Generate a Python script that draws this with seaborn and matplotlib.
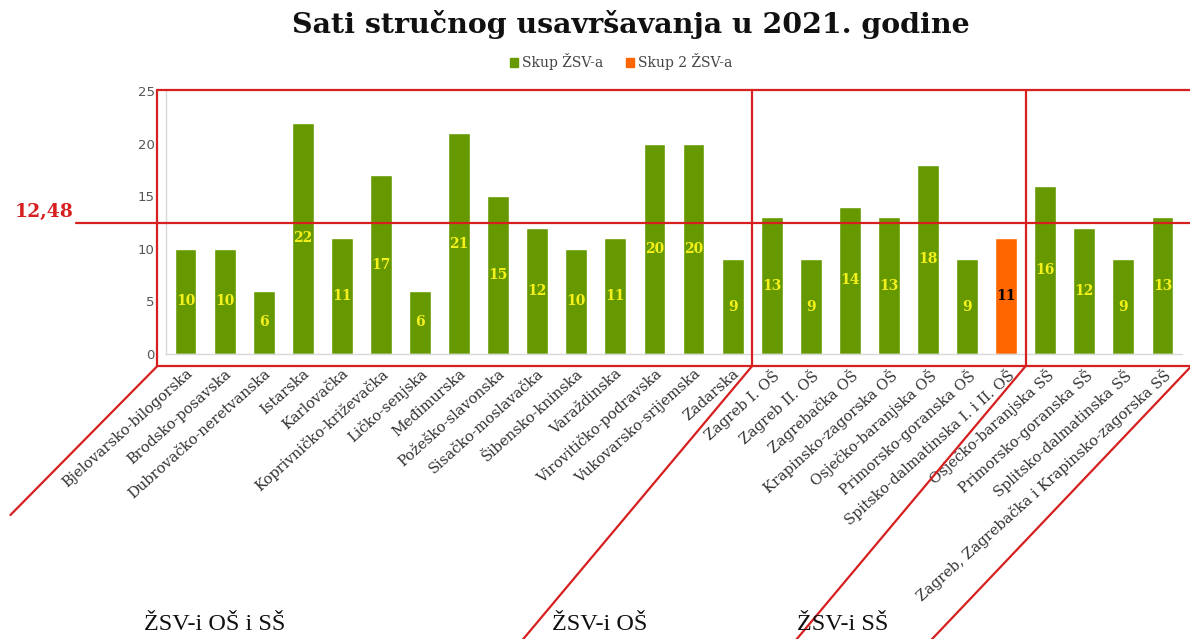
import numpy as np
import pandas as pd
import seaborn as sns
import matplotlib.pyplot as plt
from matplotlib.patches import Patch
from matplotlib.transforms import blended_transform_factory

# podaci
kategorije = ['Bjelovarsko-bilogorska', 'Brodsko-posavska', 'Dubrovačko-neretvanska',
              'Istarska', 'Karlovačka', 'Koprivničko-križevačka', 'Ličko-senjska',
              'Međimurska', 'Požeško-slavonska', 'Sisačko-moslavačka', 'Šibensko-kninska',
              'Varaždinska', 'Virovitičko-podravska', 'Vukovarsko-srijemska', 'Zadarska',
              'Zagreb I. OŠ', 'Zagreb II. OŠ', 'Zagrebačka OŠ', 'Krapinsko-zagorska OŠ',
              'Osječko-baranjska OŠ', 'Primorsko-goranska OŠ', 'Spitsko-dalmatinska I. i II. OŠ',
              'Osječko-baranjska SŠ', 'Primorsko-goranska SŠ', 'Splitsko-dalmatinska SŠ',
              'Zagreb, Zagrebačka i Krapinsko-zagorska SŠ']
sati = [10, 10, 6, 22, 11, 17, 6, 21, 15, 12, 10, 11, 20, 20, 9,
        13, 9, 14, 13, 18, 9, 11,
        16, 12, 9, 13]
skupina = ['Skup ŽSV-a'] * 21 + ['Skup 2 ŽSV-a'] + ['Skup ŽSV-a'] * 4
prosjek = 12.48
grupe = ['ŽSV-i OŠ i SŠ', 'ŽSV-i OŠ', 'ŽSV-i SŠ']
velicine_grupa = [15, 7, 4]

boje = {'Skup ŽSV-a': '#669900', 'Skup 2 ŽSV-a': '#FF6600'}
crvena = '#D61F1F'

sns.set_theme(style='white')
plt.rcParams['font.family'] = ['DejaVu Serif']

fig = plt.figure(figsize=(11.9, 6.39), dpi=100)
ax = fig.add_axes([0.1395, 0.446, 0.8538, 0.4116])

df = pd.DataFrame({'kat': kategorije, 'sati': sati, 'skup': skupina})
sns.barplot(data=df, x='kat', y='sati', hue='skup', palette=boje, dodge=False,
            width=0.56, saturation=1, legend=False, ax=ax)

# vrijednosti u stupcima
for cont, c in zip(ax.containers, ['#F4F01C', 'black']):
    ax.bar_label(cont, fmt='{:.0f}', label_type='center', color=c,
                 fontweight='bold', fontsize=10)

ax.set_xlim(-0.5, 25.5)
ax.set_ylim(0, 25)
ax.set_yticks(range(0, 26, 5))
ax.set_xlabel('')
ax.set_ylabel('')
for s in ['top', 'right']:
    ax.spines[s].set_visible(False)
for s in ['left', 'bottom']:
    ax.spines[s].set_color('#d8d8d8')
    ax.spines[s].set_linewidth(1)
ax.tick_params(axis='y', length=4, color='#d8d8d8', labelcolor='#555555', pad=4)
ax.tick_params(axis='x', length=0, pad=9)
for t in ax.get_yticklabels():
    t.set_family('DejaVu Sans')
    t.set_fontsize(9.5)
ax.set_xticks(range(len(kategorije)))
ax.set_xticklabels(kategorije, rotation=42, ha='right', va='top',
                   rotation_mode='anchor', fontsize=10.5, color='#333333')

# naslov i legenda
fig.text(0.53, 0.962, 'Sati stručnog usavršavanja u 2021. godine', ha='center', va='center',
         fontsize=20.5, fontweight='bold', color='#111111')
ruke = [Patch(color=boje[k]) for k in boje]
fig.legend(ruke, list(boje), loc='center', bbox_to_anchor=(0.522, 0.903), ncol=2,
           frameon=False, handlelength=0.6, handleheight=0.6, handletextpad=0.3,
           columnspacing=1.6, fontsize=10, labelcolor='#444444')

# crveni okviri
granice = np.cumsum(velicine_grupa)[:-1] - 0.5
vrh, dno = 25.1, -1.14
lijevo, desno = -0.72, 25.9
kw = dict(color=crvena, lw=1.6, clip_on=False, zorder=5)
ax.plot([lijevo, desno], [vrh, vrh], **kw)
ax.plot([lijevo, desno], [dno, dno], **kw)
ax.plot([lijevo, lijevo], [dno, vrh], **kw)
for g in granice:
    ax.plot([g, g], [dno, vrh], **kw)
# kose linije prema dolje
ax.plot([lijevo, -4.48], [dno, -15.3], **kw)
for g in granice:
    ax.plot([g, g - 5.95], [dno, -27.5], **kw)
ax.plot([25.7, 19.0], [-1.3, -27.5], **kw)

# prosjek
ax.plot([-2.81, desno], [prosjek, prosjek], **kw)
tr = blended_transform_factory(fig.transFigure, ax.transData)
ax.text(0.012, prosjek + 0.2, '12,48', transform=tr, ha='left', va='bottom',
        color=crvena, fontsize=13.5, fontweight='bold')

# nazivi grupa
for x, txt in zip([215, 600, 843], grupe):
    fig.text(x / 1190, 1 - 625 / 639, txt, ha='center', va='center',
             family='Liberation Serif', fontsize=17.5, color='#111111')

fig.savefig('out.png', dpi=100)
